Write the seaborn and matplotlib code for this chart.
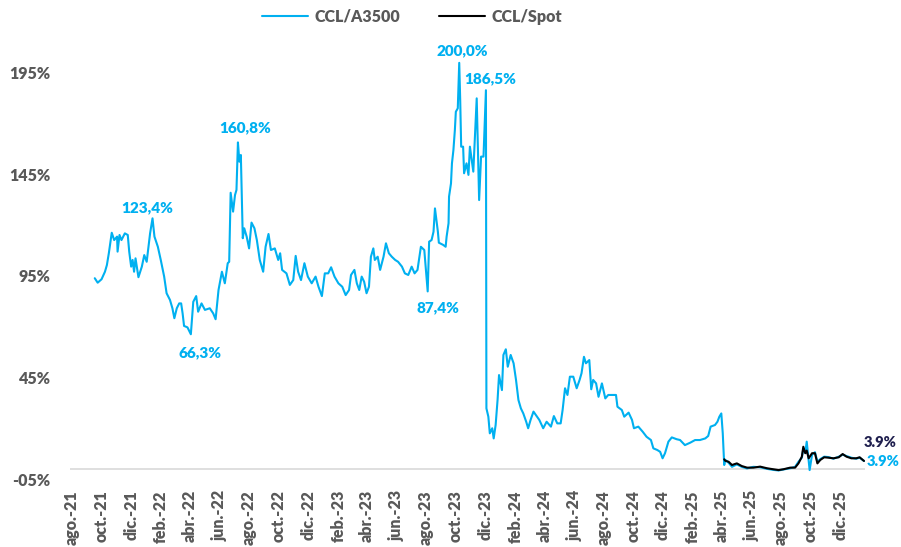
import pandas as pd
import seaborn as sns
import matplotlib.pyplot as plt

# CCL/A3500 (brecha, %)
blue_dates = [
    "2021-09-17", "2021-09-23", "2021-10-01", "2021-10-08", "2021-10-12", "2021-10-16", "2021-10-22",
    "2021-10-27", "2021-11-02", "2021-11-03", "2021-11-07", "2021-11-11", "2021-11-18", "2021-11-24",
    "2021-11-27", "2021-12-01", "2021-12-04", "2021-12-07", "2021-12-10", "2021-12-16", "2021-12-23",
    "2021-12-28", "2022-01-02", "2022-01-09", "2022-01-14", "2022-01-18", "2022-01-25", "2022-01-31",
    "2022-02-07", "2022-02-12", "2022-02-19", "2022-02-24", "2022-02-28", "2022-03-05", "2022-03-10",
    "2022-03-14", "2022-03-17", "2022-03-20", "2022-03-27", "2022-04-03", "2022-04-08", "2022-04-14",
    "2022-04-18", "2022-04-25", "2022-05-02", "2022-05-12", "2022-05-19", "2022-05-24", "2022-05-30",
    "2022-06-06", "2022-06-12", "2022-06-18", "2022-06-21", "2022-06-24", "2022-06-29", "2022-07-03",
    "2022-07-06", "2022-07-09", "2022-07-12", "2022-07-15", "2022-07-17", "2022-07-19", "2022-07-22",
    "2022-07-27", "2022-08-01", "2022-08-06", "2022-08-12", "2022-08-17", "2022-08-23", "2022-08-30",
    "2022-09-04", "2022-09-10", "2022-09-15", "2022-09-23", "2022-09-30", "2022-10-04", "2022-10-08",
    "2022-10-17", "2022-10-24", "2022-10-31", "2022-11-05", "2022-11-10", "2022-11-16", "2022-11-23",
    "2022-11-30", "2022-12-08", "2022-12-16", "2022-12-22", "2022-12-29", "2023-01-04", "2023-01-11",
    "2023-01-17", "2023-01-24", "2023-02-01", "2023-02-09", "2023-02-16", "2023-02-23", "2023-02-27",
    "2023-03-06", "2023-03-11", "2023-03-16", "2023-03-21", "2023-03-26", "2023-03-31", "2023-04-05",
    "2023-04-09", "2023-04-14", "2023-04-17", "2023-04-23", "2023-04-28", "2023-05-05", "2023-05-10",
    "2023-05-16", "2023-05-22", "2023-05-29", "2023-06-04", "2023-06-12", "2023-06-18", "2023-06-25",
    "2023-07-02", "2023-07-08", "2023-07-14", "2023-07-21", "2023-07-28", "2023-08-04", "2023-08-07",
    "2023-08-12", "2023-08-16", "2023-08-19", "2023-08-25", "2023-08-27", "2023-09-05", "2023-09-10",
    "2023-09-12", "2023-09-16", "2023-09-17", "2023-09-21", "2023-09-23", "2023-09-26", "2023-09-29",
    "2023-10-01", "2023-10-05", "2023-10-08", "2023-10-10", "2023-10-12", "2023-10-16", "2023-10-18",
    "2023-10-23", "2023-10-27", "2023-10-30", "2023-11-06", "2023-11-13", "2023-11-18", "2023-11-22",
    "2023-11-27", "2023-12-02", "2023-12-03", "2023-12-07", "2023-12-10", "2023-12-15", "2023-12-18",
    "2023-12-22", "2023-12-26", "2023-12-29", "2024-01-04", "2024-01-07", "2024-01-12", "2024-01-16",
    "2024-01-22", "2024-01-28", "2024-02-02", "2024-02-07", "2024-02-12", "2024-02-17", "2024-02-23",
    "2024-02-27", "2024-03-03", "2024-03-09", "2024-03-14", "2024-03-21", "2024-03-29", "2024-04-05",
    "2024-04-14", "2024-04-20", "2024-04-27", "2024-05-04", "2024-05-08", "2024-05-13", "2024-05-18",
    "2024-05-23", "2024-05-30", "2024-06-06", "2024-06-12", "2024-06-16", "2024-06-21", "2024-06-25",
    "2024-07-02", "2024-07-06", "2024-07-10", "2024-07-16", "2024-07-21", "2024-07-28", "2024-08-04",
    "2024-08-10", "2024-08-19", "2024-08-26", "2024-08-29", "2024-09-07", "2024-09-12", "2024-09-21",
    "2024-09-28", "2024-10-02", "2024-10-11", "2024-10-20", "2024-10-28", "2024-11-06", "2024-11-11",
    "2024-11-19", "2024-11-25", "2024-11-30", "2024-12-05", "2024-12-12", "2024-12-19", "2024-12-29",
    "2025-01-05", "2025-01-15", "2025-01-26", "2025-02-05", "2025-02-15", "2025-02-26", "2025-03-04",
    "2025-03-09", "2025-03-18", "2025-03-23", "2025-03-27", "2025-03-31", "2025-04-03", "2025-04-06",
    "2025-04-08", "2025-04-15", "2025-04-22", "2025-05-02", "2025-05-12", "2025-05-23", "2025-06-05",
    "2025-06-19", "2025-07-03", "2025-07-16", "2025-07-27", "2025-08-06", "2025-08-20", "2025-08-30",
    "2025-09-06", "2025-09-13", "2025-09-16", "2025-09-20", "2025-09-23", "2025-09-27", "2025-09-29",
    "2025-10-04", "2025-10-10", "2025-10-15", "2025-10-21", "2025-10-29", "2025-11-07", "2025-11-17",
    "2025-11-28", "2025-12-06", "2025-12-14", "2025-12-24", "2026-01-03", "2026-01-10", "2026-01-19",
]
blue_vals = [
    93.9, 91.7, 93.4, 97.1, 100.4, 106.2, 116.3,
    112.7, 114.4, 107.0, 115.2, 112.7, 116.0, 115.2,
    107.0, 99.6, 102.9, 97.1, 103.7, 94.4, 99.6,
    105.3, 102.0, 116.0, 123.4, 114.4, 109.4, 102.9,
    94.7, 86.5, 83.2, 79.1, 74.2, 79.1, 81.5,
    81.5, 76.6, 70.4, 69.7, 66.3, 82.3, 85.1,
    77.4, 81.5, 78.3, 79.1, 76.6, 73.7, 88.1,
    97.1, 91.4, 101.3, 102.0, 136.0, 126.7, 134.9,
    137.4, 160.8, 151.3, 154.6, 134.1, 113.6, 118.5,
    114.4, 108.6, 121.3, 118.5, 112.7, 102.9, 97.1,
    109.4, 115.7, 107.8, 108.6, 102.9, 106.2, 98.0,
    96.3, 90.6, 93.0, 104.9, 97.1, 93.0, 101.3,
    94.7, 91.4, 94.7, 89.7, 85.1, 96.3, 96.3,
    99.3, 94.7, 91.4, 89.7, 85.6, 88.1, 95.5,
    98.0, 91.4, 88.1, 94.7, 92.2, 86.5, 89.7,
    104.5, 108.6, 102.9, 104.5, 98.0, 104.5, 111.1,
    106.2, 104.5, 102.9, 102.0, 99.6, 96.3, 95.5,
    99.6, 96.3, 98.0, 109.4, 107.8, 87.4, 111.9,
    112.7, 116.8, 128.3, 116.8, 111.4, 110.3, 109.4,
    114.4, 121.0, 134.1, 140.6, 150.5, 157.0, 166.9,
    175.9, 177.6, 200.0, 181.7, 158.7, 158.7, 145.6,
    150.5, 144.8, 158.7, 146.4, 182.5, 132.4, 153.8,
    153.8, 186.5, 29.8, 25.7, 17.5, 20.0, 15.0,
    21.6, 34.0, 46.2, 38.8, 56.1, 58.9, 50.3,
    56.1, 52.0, 43.8, 33.9, 29.8, 27.3, 23.2,
    20.0, 24.1, 28.2, 26.5, 24.1, 20.0, 23.2,
    20.8, 26.0, 22.4, 22.4, 29.0, 39.7, 36.4,
    45.4, 45.4, 39.7, 43.8, 47.1, 55.2, 52.0,
    53.6, 39.2, 43.8, 42.1, 35.5, 42.1, 34.7,
    36.4, 36.4, 36.4, 30.6, 29.0, 25.7, 27.7,
    24.1, 20.0, 20.8, 18.3, 15.8, 14.2, 10.1,
    9.3, 8.4, 5.2, 7.7, 13.4, 15.5, 14.6,
    14.2, 11.7, 12.9, 14.2, 14.2, 15.0, 16.2,
    20.8, 21.6, 23.2, 25.7, 27.3, 17.5, 1.9,
    4.5, 3.0, 1.0, 2.2, 1.0, 0.2, 1.0,
    0.8, 0.0, -0.5, -0.8, -0.3, 0.3, 1.0,
    3.5, 5.5, 10.0, 8.0, 13.4, 4.0, -0.6,
    7.0, 8.2, 3.5, 4.8, 6.0, 5.8, 5.0,
    6.0, 7.0, 6.3, 5.5, 5.0, 5.5, 3.9,
]

# CCL/Spot (brecha, %), desde abril 2025
spot_dates = [
    "2025-04-06", "2025-04-08", "2025-04-15", "2025-04-22", "2025-05-02", "2025-05-12", "2025-05-23",
    "2025-06-05", "2025-06-19", "2025-07-03", "2025-07-16", "2025-07-27", "2025-08-06", "2025-08-20",
    "2025-08-30", "2025-09-06", "2025-09-13", "2025-09-16", "2025-09-20", "2025-09-23", "2025-09-27",
    "2025-10-04", "2025-10-10", "2025-10-15", "2025-10-21", "2025-10-29", "2025-11-07", "2025-11-17",
    "2025-11-28", "2025-12-06", "2025-12-14", "2025-12-24", "2026-01-03", "2026-01-10", "2026-01-19",
]
spot_vals = [
    4.7, 4.0, 3.5, 1.9, 2.7, 1.4, 0.6,
    0.6, 1.1, 0.3, -0.2, -0.6, -0.2, 0.6,
    0.6, 2.7, 6.0, 10.9, 7.7, 9.0, 5.2,
    7.7, 7.7, 2.7, 4.4, 5.7, 5.5, 5.2,
    5.7, 7.3, 6.0, 5.2, 5.2, 5.7, 3.9,
]

tick_labels = [
    "ago.-21", "oct.-21", "dic.-21", "feb.-22", "abr.-22", "jun.-22", "ago.-22", "oct.-22",
    "dic.-22", "feb.-23", "abr.-23", "jun.-23", "ago.-23", "oct.-23", "dic.-23", "feb.-24",
    "abr.-24", "jun.-24", "ago.-24", "oct.-24", "dic.-24", "feb.-25", "abr.-25", "jun.-25",
    "ago.-25", "oct.-25", "dic.-25",
]
y_ticks = [-5, 45, 95, 145, 195]
y_labels = ["-05%", "45%", "95%", "145%", "195%"]

BLUE = "#00B0F0"
GRAY = "#595959"

sns.set_style("white")
plt.rcParams["font.family"] = ["Lato", "DejaVu Sans"]

blue = pd.DataFrame({"fecha": pd.to_datetime(blue_dates), "valor": blue_vals})
spot = pd.DataFrame({"fecha": pd.to_datetime(spot_dates), "valor": spot_vals})

fig = plt.figure(figsize=(9.01, 5.47), dpi=100)
ax = fig.add_axes([0.0777, 0.1243, 0.8823, 0.7794])

sns.lineplot(data=blue, x="fecha", y="valor", color=BLUE, linewidth=1.5, ax=ax, label="CCL/A3500")
sns.lineplot(data=spot, x="fecha", y="valor", color="black", linewidth=1.5, ax=ax, label="CCL/Spot")

ax.set_xlim(pd.Timestamp("2021-07-28"), pd.Timestamp("2026-01-21"))
ax.set_ylim(-5, 205)
ax.axhline(0, color="#D9D9D9", linewidth=1.2, zorder=0)
for s in ax.spines.values():
    s.set_visible(False)

ax.set_xticks(pd.date_range("2021-08-01", "2025-12-01", freq="2MS"))
ax.set_xticklabels(tick_labels, rotation=90, fontsize=11.5, fontweight="heavy", color=GRAY)
ax.set_yticks(y_ticks)
ax.set_yticklabels(y_labels, fontsize=11.5, fontweight="heavy", color=GRAY)
ax.tick_params(axis="x", length=0, pad=8)
ax.tick_params(axis="y", length=0, pad=14)
ax.set_xlabel("")
ax.set_ylabel("")

# etiquetas de valores destacados
notes = [
    ("2022-01-14", 123.4, "123,4%", -5, 11),
    ("2022-07-09", 160.8, "160,8%", 7, 15),
    ("2022-04-03", 66.3, "66,3%", 9, -18),
    ("2023-10-08", 200.0, "200,0%", 3, 12),
    ("2023-12-02", 186.5, "186,5%", 4, 11),
    ("2023-08-04", 87.4, "87,4%", 10, -16),
]
for d, v, txt, dx, dy in notes:
    ax.annotate(txt, (pd.Timestamp(d), v), xytext=(dx * 0.72, dy * 0.72), textcoords="offset points",
                ha="center", va="center", color=BLUE, fontsize=11, fontweight="heavy")

ax.annotate("3.9%", (pd.Timestamp("2026-01-19"), 3.9), xytext=(0, 18 * 0.72),
            textcoords="offset points", ha="left", va="center", color="#1F1F4E",
            fontsize=10.5, fontweight="heavy", annotation_clip=False)
ax.annotate("3.9%", (pd.Timestamp("2026-01-19"), 3.9), xytext=(3 * 0.72, -1 * 0.72),
            textcoords="offset points", ha="left", va="center", color=BLUE,
            fontsize=10.5, fontweight="heavy", annotation_clip=False)

ax.legend_.remove()
handles, labels = ax.get_legend_handles_labels()
fig.legend(handles, labels, loc="center", bbox_to_anchor=(412 / 901, 1 - 17 / 547), ncol=2,
           frameon=False, handlelength=2.9, columnspacing=2.4, handletextpad=0.4,
           prop={"size": 11.5, "weight": "heavy"}, labelcolor=GRAY)

fig.savefig("out.png", dpi=100)
